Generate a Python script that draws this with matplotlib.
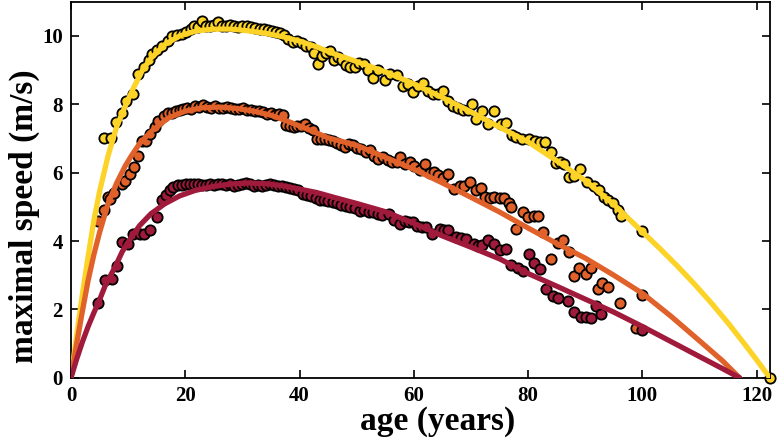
import matplotlib
matplotlib.use("Agg")
import matplotlib.pyplot as plt

# fitted curves
yel_age = [0, 1, 2, 3, 4, 5, 6.5, 8, 9.5, 11, 12.5, 14, 16.5, 19, 22, 25, 28, 31, 34, 37,
           40, 43, 46, 50, 55, 60, 65, 70, 75, 80, 85, 90, 95, 100, 103, 106, 109, 112,
           115, 118, 120, 122.3]
yel_fit = [0, 1.25, 2.45, 3.55, 4.6, 5.45, 6.5, 7.35, 7.95, 8.5, 9.0, 9.35, 9.76, 10.0,
           10.15, 10.2, 10.2, 10.15, 10.08, 9.98, 9.85, 9.68, 9.48, 9.25, 8.95, 8.6, 8.2,
           7.78, 7.33, 6.9, 6.35, 5.77, 5.07, 4.27, 3.79, 3.29, 2.76, 2.2, 1.6, 0.96,
           0.52, 0]

org_age = [0, 1, 2, 3, 4, 5, 6.5, 8, 9.5, 10.6, 12, 14, 17, 20, 23, 26, 29, 32, 35, 38,
           41, 45, 50, 55, 60, 65, 70, 75, 80, 85, 90, 95, 100, 105, 110, 114, 117]
org_fit = [0, 1.0, 1.95, 2.85, 3.6, 4.25, 5.1, 5.7, 6.2, 6.5, 6.85, 7.2, 7.6, 7.8, 7.9,
           7.92, 7.88, 7.8, 7.68, 7.5, 7.3, 7.02, 6.8, 6.45, 6.1, 5.7, 5.28, 4.85, 4.38,
           3.93, 3.5, 3.0, 2.47, 1.8, 1.08, 0.5, 0]

red_age = [0, 1, 2, 3, 4, 5, 6, 7.7, 9, 10.6, 12, 14, 16.4, 19, 21.7, 25, 28, 31, 34, 37,
           40, 43, 46, 50, 55, 60, 65, 70, 75, 80, 85, 90, 95, 100, 105, 110, 114, 117]
red_fit = [0, 0.55, 1.05, 1.5, 1.9, 2.28, 2.7, 3.24, 3.7, 4.12, 4.45, 4.8, 5.09, 5.32,
           5.48, 5.6, 5.67, 5.7, 5.68, 5.62, 5.52, 5.42, 5.28, 5.1, 4.86, 4.52, 4.15,
           3.82, 3.48, 3.05, 2.68, 2.3, 1.92, 1.5, 1.06, 0.62, 0.27, 0]

# record points
yel_x = [5.7, 7.0, 7.9, 8.9, 9.6, 10.8, 11.8, 12.8, 13.6, 14.2, 15.0, 16.0, 16.9, 17.6,
         18.6, 19.4, 20.2, 21.0, 21.6, 22.3, 22.9, 23.6, 24.3, 25.0, 25.8, 26.5, 27.2,
         27.9, 28.6, 29.3, 30.0, 30.8, 31.5, 32.2, 33.0, 33.7, 34.4, 35.1, 35.8, 36.5,
         37.2, 38.0, 38.8, 39.6, 40.4, 41.2, 42.0, 42.6, 43.2, 43.9, 44.6, 45.3, 46.0,
         46.7, 47.5, 48.2, 48.9, 49.7, 50.4, 51.3, 52.0, 52.9, 53.7, 54.9, 55.8, 57.0,
         58.1, 59.0, 59.8, 60.8, 61.6, 62.5, 63.4, 64.3, 65.1, 66.0, 66.8, 67.7, 68.6,
         69.5, 70.1, 70.9, 72.0, 73.0, 74.1, 75.2, 76.2, 77.1, 77.9, 79.0, 80.2, 81.2,
         82.0, 83.0, 84.0, 84.9, 85.6, 86.2, 87.2, 88.1, 89.0, 90.3, 91.5, 92.4, 93.2,
         94.0, 94.8, 95.7, 96.2, 100.0, 122.3]
yel_y = [7.02, 7.02, 7.47, 7.75, 8.1, 8.3, 8.88, 9.1, 9.3, 9.46, 9.6, 9.72, 9.85, 10.0,
         10.03, 10.05, 10.12, 10.2, 10.3, 10.25, 10.45, 10.3, 10.28, 10.32, 10.42, 10.3,
         10.3, 10.32, 10.3, 10.25, 10.28, 10.3, 10.25, 10.22, 10.2, 10.2, 10.18, 10.15,
         10.12, 10.1, 10.02, 9.9, 9.82, 9.85, 9.8, 9.72, 9.68, 9.5, 9.17, 9.4, 9.5, 9.56,
         9.3, 9.38, 9.3, 9.15, 9.08, 9.1, 9.22, 9.17, 9.0, 8.78, 9.0, 8.72, 8.88, 8.85,
         8.55, 8.6, 8.35, 8.55, 8.62, 8.4, 8.3, 8.3, 8.38, 8.1, 7.96, 7.9, 7.82, 7.82,
         8.0, 7.57, 7.8, 7.42, 7.81, 7.42, 7.45, 7.1, 7.04, 7.0, 7.0, 6.92, 6.89, 6.9,
         6.6, 6.27, 6.32, 6.25, 5.87, 5.9, 6.11, 5.72, 5.62, 5.5, 5.3, 5.2, 5.1, 4.9,
         4.72, 4.3, 0.0]

org_x = [4.8, 5.7, 6.5, 6.9, 7.6, 8.9, 9.4, 10.3, 11.0, 11.8, 12.4, 13.2, 13.8, 14.7,
         15.2, 16.2, 16.9, 17.7, 18.4, 19.0, 19.6, 20.3, 21.0, 21.7, 22.4, 23.1, 23.8,
         24.5, 25.2, 25.9, 26.6, 27.3, 28.0, 28.7, 29.4, 30.1, 30.8, 31.5, 32.2, 32.9,
         33.6, 34.3, 35.0, 35.7, 36.4, 37.1, 37.6, 38.3, 39.0, 39.6, 40.3, 40.9, 41.6,
         42.3, 43.0, 43.7, 44.4, 45.1, 45.8, 46.5, 47.2, 47.9, 48.6, 49.3, 50.0, 50.8,
         51.6, 52.3, 53.1, 53.8, 54.6, 55.4, 56.2, 57.0, 57.6, 58.5, 59.3, 60.1, 61.0,
         61.9, 62.8, 63.5, 64.3, 65.1, 66.0, 67.1, 68.0, 68.8, 69.8, 70.9, 71.7, 72.4,
         73.3, 74.1, 75.0, 75.8, 76.6, 77.0, 77.9, 79.1, 80.0, 81.0, 81.7, 82.6, 84.0,
         85.2, 86.1, 87.2, 88.1, 88.9, 90.1, 91.0, 92.2, 93.0, 94.0, 96.0, 98.9, 100.0]
org_y = [4.58, 4.9, 5.29, 5.24, 5.4, 5.67, 5.75, 5.96, 6.16, 6.5, 6.94, 6.94, 7.13, 7.33,
         7.52, 7.65, 7.76, 7.75, 7.8, 7.82, 7.85, 7.88, 7.86, 7.95, 7.92, 7.98, 7.92,
         7.9, 7.95, 7.9, 7.9, 7.92, 7.88, 7.85, 7.87, 7.9, 7.82, 7.83, 7.8, 7.8, 7.78,
         7.72, 7.74, 7.7, 7.72, 7.68, 7.4, 7.38, 7.35, 7.38, 7.38, 7.42, 7.3, 7.25, 6.99,
         7.0, 6.98, 6.95, 6.92, 6.88, 6.8, 6.74, 6.84, 6.8, 6.72, 6.7, 6.62, 6.65, 6.5,
         6.4, 6.45, 6.38, 6.3, 6.3, 6.45, 6.25, 6.3, 6.2, 6.08, 6.26, 6.0, 6.02, 5.92,
         5.85, 5.95, 5.53, 5.6, 5.62, 5.72, 5.5, 5.55, 5.3, 5.27, 5.3, 5.27, 5.27, 5.1,
         4.99, 4.36, 4.85, 4.69, 4.72, 4.72, 4.27, 3.49, 3.95, 4.04, 3.68, 2.98, 3.2,
         3.03, 3.2, 2.59, 2.76, 2.66, 2.2, 1.45, 2.42]

red_x = [4.8, 5.9, 7.1, 8.0, 8.9, 10.0, 10.9, 12.0, 12.8, 13.8, 15.0, 15.9, 16.7, 17.4,
         17.9, 18.8, 19.5, 20.2, 20.9, 21.6, 22.3, 23.0, 23.7, 24.4, 25.1, 25.8, 26.5,
         27.2, 27.9, 28.6, 29.3, 30.0, 30.7, 31.4, 32.1, 32.8, 33.5, 34.2, 34.9, 35.6,
         36.3, 37.0, 37.7, 38.4, 39.1, 39.8, 40.6, 41.3, 42.0, 42.8, 43.5, 44.3, 45.0,
         45.8, 46.5, 47.3, 48.1, 48.9, 49.7, 50.5, 51.3, 52.1, 52.9, 53.7, 54.5, 55.7,
         56.5, 57.5, 58.4, 59.2, 59.8, 60.6, 61.4, 62.2, 63.1, 64.5, 65.3, 66.0, 67.4,
         68.3, 69.2, 70.5, 71.3, 72.0, 73.0, 74.1, 75.0, 76.2, 77.0, 78.2, 79.1, 80.2,
         81.1, 82.0, 83.2, 84.3, 85.2, 86.9, 88.1, 89.2, 90.1, 91.0, 91.9, 92.8, 100.0]
red_y = [2.18, 2.86, 2.9, 3.27, 3.97, 3.9, 4.2, 4.22, 4.22, 4.32, 4.7, 5.19, 5.35, 5.5,
         5.58, 5.63, 5.65, 5.68, 5.66, 5.67, 5.66, 5.65, 5.63, 5.66, 5.65, 5.68, 5.66,
         5.64, 5.66, 5.62, 5.64, 5.66, 5.7, 5.66, 5.62, 5.64, 5.62, 5.65, 5.68, 5.64,
         5.6, 5.62, 5.58, 5.55, 5.52, 5.48, 5.38, 5.34, 5.33, 5.25, 5.19, 5.2, 5.18,
         5.14, 5.1, 5.05, 5.02, 5.0, 4.96, 4.88, 4.9, 4.86, 4.84, 4.78, 4.75, 4.8, 4.62,
         4.51, 4.6, 4.55, 4.55, 4.45, 4.42, 4.4, 4.22, 4.34, 4.32, 4.32, 4.12, 4.1, 4.07,
         3.92, 3.85, 3.88, 4.04, 3.92, 3.73, 3.78, 3.29, 3.2, 3.11, 3.61, 3.35, 3.17, 2.6,
         2.4, 2.34, 2.26, 1.93, 1.78, 1.78, 1.74, 2.1, 1.88, 1.4]

x_ticks = [0, 20, 40, 60, 80, 100, 120]
y_ticks = [0, 2, 4, 6, 8, 10]

c_yel = "#FCD326"
c_org = "#E0612A"
c_red = "#A01A3B"

plt.rcParams["font.family"] = ["Liberation Serif", "DejaVu Serif"]
plt.rcParams["font.weight"] = "bold"

fig = plt.figure(figsize=(7.8, 4.45), dpi=100)
ax = fig.add_axes([0.091, 0.151, 0.896, 0.845])

pt = dict(s=55, edgecolors="black", linewidths=1.3, zorder=2, clip_on=False)
ax.scatter(yel_x, yel_y, color=c_yel, **pt)
ax.scatter(org_x, org_y, color=c_org, **pt)
ax.scatter(red_x, red_y, color=c_red, **pt)

ax.plot(yel_age, yel_fit, color=c_yel, lw=3.8, zorder=3, solid_capstyle="round")
ax.plot(org_age, org_fit, color=c_org, lw=3.8, zorder=3, solid_capstyle="round")
ax.plot(red_age, red_fit, color=c_red, lw=3.8, zorder=3, solid_capstyle="round")

ax.set_xlim(0, 122.3)
ax.set_ylim(0, 11)
ax.set_xticks(x_ticks)
ax.set_yticks(y_ticks)
ax.tick_params(direction="in", length=6, width=1.2, top=True, right=True,
               labelsize=15, pad=6)
for s in ax.spines.values():
    s.set_linewidth(1.3)

ax.set_xlabel("age (years)", fontsize=24, fontweight="bold", labelpad=1)
ax.xaxis.set_label_coords(0.524, -0.075)
ax.set_ylabel("maximal speed (m/s)", fontsize=24, fontweight="bold")
ax.yaxis.set_label_coords(-0.044, 0.43)

fig.savefig("out.png", dpi=100)
